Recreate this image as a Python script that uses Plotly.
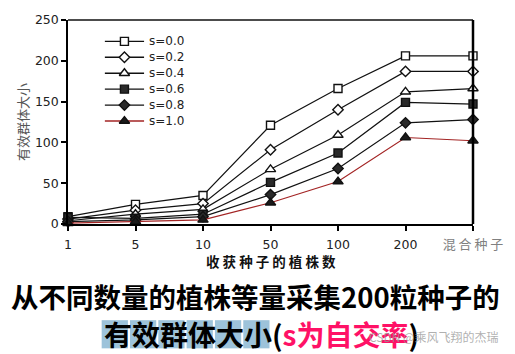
import plotly.graph_objects as go

# ---------------- data ----------------
categories = ["1", "5", "10", "50", "100", "200", "混合种子"]
series_names = ["s=0.0", "s=0.2", "s=0.4", "s=0.6", "s=0.8", "s=1.0"]
s00 = [9, 24, 35, 121, 166, 206, 206]
s02 = [6, 17, 25, 91, 140, 187, 187]
s04 = [4, 12, 18, 67, 109, 162, 166]
s06 = [8, 7, 12, 51, 87, 149, 147]
s08 = [3, 5, 9, 36, 68, 124, 128]
s10 = [1, 3, 5, 26, 52, 106, 102]
y_ticks = [0, 50, 100, 150, 200, 250]
x_title = "收获种子的植株数"
y_title = "有效群体大小"
caption1 = "从不同数量的植株等量采集200粒种子的"
caption2_a = "有效群体大小"
caption2_b = "s为自交率"
watermark = "CSDN @乘风飞翔的杰瑞"

series_values = [s00, s02, s04, s06, s08, s10]

# ---------------- styles ----------------
symbols = ["square", "diamond", "triangle-up", "square", "diamond", "triangle-up"]
fills = ["white", "white", "white", "#2a2a2a", "#2a2a2a", "#1a1a1a"]
sizes = [8, 8, 9, 8, 8, 9]
line_colors = ["#111111"] * 5 + ["#A32424"]

W, H = 515, 354
L, R, T, B = 68, 38, 14, 130
PW, PH = W - L - R, H - T - B


def px(xp):
    return (xp - L) / PW


def py(yp):
    return (H - B - yp) / PH


CJK = "Noto Sans CJK SC"
LAT = "DejaVu Sans"

fig = go.Figure()

for name, vals, sym, fc, sz, lc in zip(series_names, series_values, symbols, fills, sizes, line_colors):
    fig.add_trace(go.Scatter(
        x=categories, y=vals, mode="lines+markers", name=name,
        line=dict(color=lc, width=1.2),
        marker=dict(symbol=sym, size=sz, color=fc, line=dict(color="#111111", width=1.4)),
        cliponaxis=False, showlegend=False, hoverinfo="skip",
    ))

# manual compact legend drawn in its own small axes
for i, (name, sym, fc, sz, lc) in enumerate(zip(series_names, symbols, fills, sizes, line_colors)):
    fig.add_trace(go.Scatter(
        x=[0, 1], y=[i, i], mode="lines", line=dict(color=lc, width=1.4),
        xaxis="x2", yaxis="y2", showlegend=False, hoverinfo="skip", cliponaxis=False,
    ))
    fig.add_trace(go.Scatter(
        x=[0.5], y=[i], mode="markers",
        marker=dict(symbol=sym, size=sz, color=fc, line=dict(color="#111111", width=1.4)),
        xaxis="x2", yaxis="y2", showlegend=False, hoverinfo="skip", cliponaxis=False,
    ))

ticktext = categories[:-1] + [
    "<span style='color:#808080;font-family:Noto Sans CJK SC;font-size:13px'>"
    + " ".join(categories[-1]) + "</span>"
]

annotations = []
for i, name in enumerate(series_names):
    annotations.append(dict(
        text=name, xref="x2", yref="y2", x=1, y=i, xanchor="left", yanchor="middle",
        xshift=3, showarrow=False, font=dict(family=LAT, size=12, color="#222222"),
    ))

annotations += [
    dict(text=y_title, xref="paper", yref="paper", x=px(10), y=0.5, textangle=-90,
         showarrow=False, font=dict(family=CJK, size=13, color="#555555")),
    dict(text=" ".join(x_title), xref="paper", yref="paper", x=0.5, y=py(262),
         xanchor="center", yanchor="middle", showarrow=False,
         font=dict(family=CJK, size=13.5, color="#111111", weight="bold")),
    dict(text=caption1, xref="paper", yref="paper", x=px(257), y=py(298),
         xanchor="center", yanchor="middle", showarrow=False,
         font=dict(family=CJK, size=27.5, color="#000000", weight="bold")),
    dict(text=caption2_a + "(<span style='color:#FF1166'>" + caption2_b + "</span>)",
         xref="paper", yref="paper", x=px(102), y=py(337),
         xanchor="left", yanchor="middle", showarrow=False,
         font=dict(family=CJK, size=28, color="#000000", weight="bold")),
    dict(text=watermark, xref="paper", yref="paper", x=px(437), y=py(340),
         xanchor="center", yanchor="middle", showarrow=False,
         font=dict(family=CJK, size=12, color="rgba(150,150,150,0.75)")),
]

shapes = [
    dict(type="line", xref="paper", yref="paper", x0=0, x1=1, y0=1, y1=1,
         line=dict(color="#111111", width=1.3)),
    dict(type="line", xref="paper", yref="paper", x0=1, x1=1, y0=0, y1=1,
         line=dict(color="#000000", width=2.5)),
]
for k in range(len(caption2_a)):
    x0 = 102 + k * 28.6
    shapes.append(dict(type="rect", xref="paper", yref="paper", layer="below",
                       x0=px(x0), x1=px(x0 + 26.5), y0=py(352), y1=py(323),
                       line=dict(width=0), fillcolor="#9DC3DA"))

fig.update_layout(
    width=W, height=H,
    margin=dict(l=L, r=R, t=T, b=B),
    paper_bgcolor="white", plot_bgcolor="rgba(0,0,0,0)",
    showlegend=False,
    xaxis=dict(type="category", range=[0, len(categories) - 1],
               tickvals=categories, ticktext=ticktext,
               showline=True, linecolor="#000000", linewidth=2,
               ticks="outside", ticklen=5, tickwidth=1.5, tickcolor="#000000",
               ticklabelstandoff=3,
               showgrid=False, zeroline=False,
               tickfont=dict(family=LAT, size=12.5, color="#222222")),
    yaxis=dict(range=[0, 250], tickvals=y_ticks,
               showline=True, linecolor="#000000", linewidth=1.5,
               ticks="outside", ticklen=5, tickwidth=1.5, tickcolor="#000000",
               showgrid=False, zeroline=False,
               tickfont=dict(family=LAT, size=12.5, color="#222222")),
    xaxis2=dict(domain=[px(105), px(145)], range=[0, 1], anchor="y2", visible=False,
                fixedrange=True),
    yaxis2=dict(domain=[py(124), py(30)], range=[5.366, -0.366], anchor="x2",
                visible=False, fixedrange=True),
    annotations=annotations,
    shapes=shapes,
)

fig.write_html("out.html")
